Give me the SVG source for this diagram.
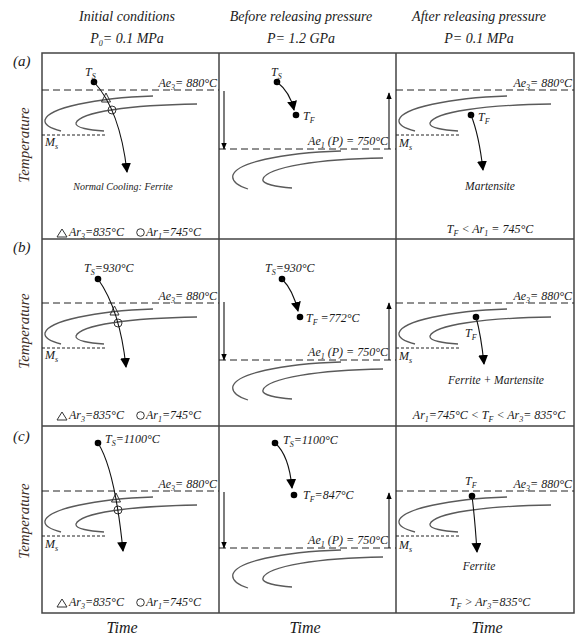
<svg xmlns="http://www.w3.org/2000/svg" width="577" height="637" viewBox="0 0 577 637">
<style>
text{font-family:"Liberation Serif","Times New Roman",serif;font-style:italic;fill:#1a1a1a}
.hd{font-size:14px}
.lb{font-size:12px}
.sm{font-size:10px}
.oc{font-size:11.5px}
.ax{font-size:15px;fill:#3b2a1e}
.tm{font-size:16px}
.pl{font-size:15px}
.s{font-size:8px}
.grid{fill:none;stroke:#444;stroke-width:1.5}
.ae{stroke:#222;stroke-width:1;stroke-dasharray:7 4;fill:none}
.ms{stroke:#222;stroke-width:1;stroke-dasharray:3 2;fill:none}
.cc{fill:none;stroke:#5a5a5a;stroke-width:1.3}
.cool{fill:none;stroke:#111;stroke-width:1.1}
.dot{fill:#000}
.mk{fill:#fff;fill-opacity:0;stroke:#333;stroke-width:1}
</style>
<defs>
<marker id="ah" viewBox="0 0 10 10" refX="9" refY="5" markerWidth="10" markerHeight="10" markerUnits="userSpaceOnUse" orient="auto"><path d="M0,0 L10,5 L0,10 z" fill="#000"/></marker>
<marker id="ahs" viewBox="0 0 10 8" refX="9" refY="4" markerWidth="7" markerHeight="5.6" markerUnits="userSpaceOnUse" orient="auto"><path d="M0,0 L10,4 L0,8 z" fill="#000"/></marker>
<g id="c13">
<path class="cc" d="M111,6 C53,8 6,18 3,30 C2,36 11,39 19,41"/>
<path class="cc" d="M155,14 C88,15 38,22 34,33 C33,38 48,40 62,41"/>
<path class="ms" d="M0,45 H63"/>
</g>
<g id="c2">
<path class="cc" d="M122,2 C60,4 18,14 14,26 C12,33 20,37 29,40"/>
<path class="cc" d="M164,9 C100,10 48,18 44,30 C42,35 58,38 73,39"/>
</g>
</defs>

<g id="grid">
<rect class="grid" x="42" y="53" width="532" height="560"/>
<path class="grid" d="M219,53 V613 M396,53 V613 M42,239 H574 M42,426 H574"/>
</g>

<g id="headers">
<text class="hd" x="127" y="21" text-anchor="middle">Initial conditions</text>
<text class="hd" x="127" y="43" text-anchor="middle">P<tspan class="s" dy="3">0</tspan><tspan dy="-3">= 0.1 MPa</tspan></text>
<text class="hd" x="301" y="21" text-anchor="middle">Before releasing pressure</text>
<text class="hd" x="301" y="43" text-anchor="middle">P= 1.2 GPa</text>
<text class="hd" x="479" y="21" text-anchor="middle">After releasing pressure</text>
<text class="hd" x="479" y="43" text-anchor="middle">P= 0.1 MPa</text>
<text class="pl" x="13" y="66">(a)</text>
<text class="pl" x="13" y="252">(b)</text>
<text class="pl" x="13" y="441">(c)</text>
<text class="ax" transform="translate(29,145) rotate(-90)" text-anchor="middle">Temperature</text>
<text class="ax" transform="translate(29,331) rotate(-90)" text-anchor="middle">Temperature</text>
<text class="ax" transform="translate(29,521) rotate(-90)" text-anchor="middle">Temperature</text>
<text class="tm" x="122" y="633" text-anchor="middle">Time</text>
<text class="tm" x="305" y="633" text-anchor="middle">Time</text>
<text class="tm" x="487" y="633" text-anchor="middle">Time</text>
</g>

<!-- Row a -->
<g id="a1">
<path class="ae" d="M42,90 H219"/>
<use href="#c13" transform="translate(42,90)"/>
<circle class="dot" cx="94" cy="82" r="3.3"/>
<polygon class="mk" points="101.5,102 110.5,102 106,93"/>
<circle class="mk" cx="112" cy="110" r="4"/>
<text class="lb" x="85" y="76">T<tspan class="s" dy="3">S</tspan></text>
<text class="lb" x="217" y="87" text-anchor="end">Ae<tspan class="s" dy="3">3</tspan><tspan dy="-3">= 880°C</tspan></text>
<text class="lb" x="45" y="146">M<tspan class="s" dy="3">s</tspan></text>
<text class="sm" x="123" y="190" text-anchor="middle">Normal Cooling: Ferrite</text>
<polygon class="mk" points="57,237 67,237 62,229"/>
<text class="lb" x="69" y="236">Ar<tspan class="s" dy="3">3</tspan><tspan dy="-3">=835°C</tspan></text>
<circle class="mk" cx="140.5" cy="232.5" r="3.8"/>
<text class="lb" x="146" y="236">Ar<tspan class="s" dy="3">1</tspan><tspan dy="-3">=745°C</tspan></text>
</g>
<g id="a2">
<path class="ae" d="M219,149 H396"/>
<use href="#c2" transform="translate(219,149)"/>
<circle class="dot" cx="277" cy="82" r="3.3"/>
<circle class="dot" cx="296" cy="115" r="3.3"/>
<text class="lb" x="271" y="76">T<tspan class="s" dy="3">S</tspan></text>
<text class="lb" x="303" y="120">T<tspan class="s" dy="3">F</tspan></text>
<text class="lb" x="388" y="145" text-anchor="end">Ae<tspan class="s" dy="3">1</tspan><tspan dy="-3"> (P) = 750°C</tspan></text>
</g>
<g id="a3">
<path class="ae" d="M396,90 H574"/>
<use href="#c13" transform="translate(396,90)"/>
<circle class="dot" cx="471" cy="115" r="3.3"/>
<text class="lb" x="572" y="87" text-anchor="end">Ae<tspan class="s" dy="3">3</tspan><tspan dy="-3">= 880°C</tspan></text>
<text class="lb" x="399" y="147">M<tspan class="s" dy="3">s</tspan></text>
<text class="lb" x="478" y="121">T<tspan class="s" dy="3">F</tspan></text>
<text class="oc" x="490" y="190" text-anchor="middle">Martensite</text>
<text class="lb" x="490" y="233" text-anchor="middle">T<tspan class="s" dy="3">F</tspan><tspan dy="-3"> &lt; Ar</tspan><tspan class="s" dy="3">1</tspan><tspan dy="-3"> = 745°C</tspan></text>
</g>

<!-- Row b -->
<g id="b1">
<path class="ae" d="M42,303 H219"/>
<use href="#c13" transform="translate(42,303)"/>
<circle class="dot" cx="98" cy="279" r="3.3"/>
<polygon class="mk" points="110,315 119,315 114.5,306"/>
<circle class="mk" cx="118" cy="323" r="4"/>
<text class="lb" x="84" y="272">T<tspan class="s" dy="3">S</tspan><tspan dy="-3">=930°C</tspan></text>
<text class="lb" x="217" y="300" text-anchor="end">Ae<tspan class="s" dy="3">3</tspan><tspan dy="-3">= 880°C</tspan></text>
<text class="lb" x="45" y="359">M<tspan class="s" dy="3">s</tspan></text>
<polygon class="mk" points="57,420 67,420 62,412"/>
<text class="lb" x="69" y="419">Ar<tspan class="s" dy="3">3</tspan><tspan dy="-3">=835°C</tspan></text>
<circle class="mk" cx="140.5" cy="415.5" r="3.8"/>
<text class="lb" x="146" y="419">Ar<tspan class="s" dy="3">1</tspan><tspan dy="-3">=745°C</tspan></text>
</g>
<g id="b2">
<path class="ae" d="M219,360 H396"/>
<use href="#c2" transform="translate(219,360)"/>
<circle class="dot" cx="282" cy="279" r="3.3"/>
<circle class="dot" cx="300" cy="317" r="3.3"/>
<text class="lb" x="265" y="272">T<tspan class="s" dy="3">S</tspan><tspan dy="-3">=930°C</tspan></text>
<text class="lb" x="306" y="322">T<tspan class="s" dy="3">F</tspan><tspan dy="-3"> =772°C</tspan></text>
<text class="lb" x="388" y="356" text-anchor="end">Ae<tspan class="s" dy="3">1</tspan><tspan dy="-3"> (P) = 750°C</tspan></text>
</g>
<g id="b3">
<path class="ae" d="M396,303 H574"/>
<use href="#c13" transform="translate(396,303)"/>
<circle class="dot" cx="476" cy="317" r="3.3"/>
<text class="lb" x="572" y="300" text-anchor="end">Ae<tspan class="s" dy="3">3</tspan><tspan dy="-3">= 880°C</tspan></text>
<text class="lb" x="399" y="360">M<tspan class="s" dy="3">s</tspan></text>
<text class="lb" x="465" y="337">T<tspan class="s" dy="3">F</tspan></text>
<text class="oc" x="496" y="384" text-anchor="middle">Ferrite + Martensite</text>
<text class="lb" x="489" y="419" text-anchor="middle">Ar<tspan class="s" dy="3">1</tspan><tspan dy="-3">=745°C &lt; T</tspan><tspan class="s" dy="3">F</tspan><tspan dy="-3"> &lt; Ar</tspan><tspan class="s" dy="3">3</tspan><tspan dy="-3">= 835°C</tspan></text>
</g>

<!-- Row c -->
<g id="c1">
<path class="ae" d="M42,491 H219"/>
<use href="#c13" transform="translate(42,491)"/>
<circle class="dot" cx="98" cy="443" r="3.3"/>
<polygon class="mk" points="111.5,502 120.5,502 116,493"/>
<circle class="mk" cx="118" cy="510" r="4"/>
<text class="lb" x="105" y="443">T<tspan class="s" dy="3">S</tspan><tspan dy="-3">=1100°C</tspan></text>
<text class="lb" x="217" y="488" text-anchor="end">Ae<tspan class="s" dy="3">3</tspan><tspan dy="-3">= 880°C</tspan></text>
<text class="lb" x="45" y="548">M<tspan class="s" dy="3">s</tspan></text>
<polygon class="mk" points="57,607 67,607 62,599"/>
<text class="lb" x="69" y="606">Ar<tspan class="s" dy="3">3</tspan><tspan dy="-3">=835°C</tspan></text>
<circle class="mk" cx="140.5" cy="602.5" r="3.8"/>
<text class="lb" x="146" y="606">Ar<tspan class="s" dy="3">1</tspan><tspan dy="-3">=745°C</tspan></text>
</g>
<g id="c2p">
<path class="ae" d="M219,548 H396"/>
<use href="#c2" transform="translate(219,548)"/>
<circle class="dot" cx="275" cy="443" r="3.3"/>
<circle class="dot" cx="294" cy="495" r="3.3"/>
<text class="lb" x="283" y="444">T<tspan class="s" dy="3">S</tspan><tspan dy="-3">=1100°C</tspan></text>
<text class="lb" x="303" y="499">T<tspan class="s" dy="3">F</tspan><tspan dy="-3">=847°C</tspan></text>
<text class="lb" x="388" y="544" text-anchor="end">Ae<tspan class="s" dy="3">1</tspan><tspan dy="-3"> (P) = 750°C</tspan></text>
</g>
<g id="c3">
<path class="ae" d="M396,491 H574"/>
<use href="#c13" transform="translate(396,491)"/>
<circle class="dot" cx="472" cy="496" r="3.3"/>
<text class="lb" x="572" y="488" text-anchor="end">Ae<tspan class="s" dy="3">3</tspan><tspan dy="-3">= 880°C</tspan></text>
<text class="lb" x="399" y="549">M<tspan class="s" dy="3">s</tspan></text>
<text class="lb" x="465" y="485">T<tspan class="s" dy="3">F</tspan></text>
<text class="oc" x="479" y="570" text-anchor="middle">Ferrite</text>
<text class="lb" x="490" y="606" text-anchor="middle">T<tspan class="s" dy="3">F</tspan><tspan dy="-3"> &gt; Ar</tspan><tspan class="s" dy="3">3</tspan><tspan dy="-3">=835°C</tspan></text>
</g>

<g id="connectors">
<path class="cool" marker-end="url(#ah)" d="M94,82 Q120,110 127,172"/>
<path class="cool" marker-end="url(#ah)" d="M98,279 Q120,310 126,367"/>
<path class="cool" marker-end="url(#ah)" d="M98,443 Q115,470 123,551"/>
<path class="cool" marker-end="url(#ah)" d="M277,82 Q290,92 294,110"/>
<path class="cool" marker-end="url(#ah)" d="M282,279 Q293,290 298,311"/>
<path class="cool" marker-end="url(#ah)" d="M275,443 Q289,455 292,488"/>
<path class="cool" marker-end="url(#ah)" d="M471,115 Q479,135 483,170"/>
<path class="cool" marker-end="url(#ah)" d="M476,317 Q481,335 484,364"/>
<path class="cool" marker-end="url(#ah)" d="M472,496 Q475,520 477,552"/>
<path class="cool" marker-end="url(#ahs)" d="M224,91 V149"/>
<path class="cool" marker-end="url(#ahs)" d="M389,149 V93"/>
<path class="cool" marker-end="url(#ahs)" d="M224,302 V360"/>
<path class="cool" marker-end="url(#ahs)" d="M389,360 V303"/>
<path class="cool" marker-end="url(#ahs)" d="M224,492 V548"/>
<path class="cool" marker-end="url(#ahs)" d="M389,548 V493"/>
</g>
</svg>
